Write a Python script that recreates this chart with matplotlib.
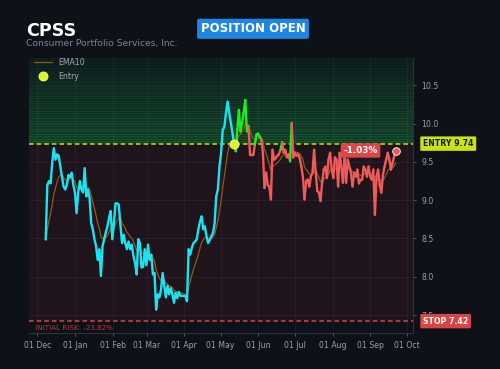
import matplotlib
matplotlib.use("Agg")
import matplotlib.pyplot as plt
import matplotlib.dates as mdates
import matplotlib.transforms as mtransforms
from matplotlib.collections import LineCollection
import numpy as np
import pandas as pd

# ---------------- data ----------------
ticker = "CPSS"
company = "Consumer Portfolio Services, Inc."
status = "POSITION OPEN"
entry_price = 9.74
stop_price = 7.42
pnl_label = "-1.03%"
risk_label = "INITIAL RISK: -23.82%"

pre_start, entry_date, last_date = "2024-12-08", "2025-05-12", "2025-09-22"

pre_close = [8.49, 9.20, 9.25, 9.22, 9.49, 9.68, 9.53, 9.60, 9.58, 9.44, 9.31, 9.18, 9.14, 9.20,
             9.33, 9.30, 9.36, 9.20, 9.10, 8.83, 9.10, 9.25, 9.14, 9.10, 9.42, 9.05, 9.14, 9.03,
             8.70, 8.62, 8.49, 8.40, 8.22, 8.36, 8.01, 8.40, 8.49,
             8.58, 8.66, 8.77, 8.86, 8.49, 8.70, 8.96, 8.96, 8.94, 8.68, 8.44, 8.55, 8.44, 8.36,
             8.46, 8.36, 8.42, 8.27, 8.18, 8.03, 8.49, 8.44, 8.12, 8.13, 8.36, 8.15, 8.42, 8.22,
             8.29, 8.03, 8.05, 7.57, 7.77, 7.73, 7.83, 8.05, 7.88, 7.73, 7.88, 7.77, 7.85, 7.77,
             7.66, 7.79, 7.72, 7.80, 7.75, 7.75, 7.75, 7.75, 7.68, 8.36, 8.29, 8.38, 8.44, 8.46,
             8.49, 8.62, 8.72, 8.79, 8.62, 8.66, 8.53, 8.44, 8.48, 8.53, 8.57, 8.70, 9.05, 9.14,
             9.44, 9.62, 9.92, 9.96, 10.14, 10.29, 10.14, 10.01, 9.88, 9.74]

post_close = [9.74, 9.64, 9.92, 10.18, 9.90, 10.01, 10.14, 10.31, 9.90, 9.97, 9.59, 9.59, 9.59,
              9.73, 9.86, 9.87, 9.83, 9.79, 9.62, 9.16, 9.36, 9.20, 9.18, 9.01, 9.66, 9.53, 9.55,
              9.58, 9.60, 9.66, 9.76, 9.62, 9.66, 9.56, 9.60, 9.51, 10.01, 9.56, 9.62, 9.58,
              9.60, 9.55, 9.44, 9.31, 9.01, 9.25, 9.27, 9.18, 9.31, 9.36, 9.66, 9.36, 9.12, 9.10,
              8.99, 9.23, 9.40, 9.44, 9.29, 9.53, 9.62, 9.40, 9.29, 9.56, 9.53, 9.18, 9.62, 9.44,
              9.23, 9.56, 9.23, 9.53, 9.44, 9.36, 9.18, 9.36, 9.31, 9.40, 9.22, 9.27, 9.27, 9.44,
              9.40, 9.31, 9.44, 9.31, 9.27, 9.40, 8.81, 9.31, 9.40, 9.20, 9.10, 9.33, 9.44, 9.53,
              9.62, 9.53, 9.40, 9.49, 9.57, 9.65]

y_ticks = [7.5, 8.0, 8.5, 9.0, 9.5, 10.0, 10.5]
x_ticks = ["2024-12-01", "2025-01-01", "2025-02-01", "2025-03-01", "2025-04-01", "2025-05-01",
           "2025-06-01", "2025-07-01", "2025-08-01", "2025-09-01", "2025-10-01"]

# ---------------- styling ----------------
BG = "#0e1118"
CYAN = "#18e4f4"
GREEN = "#1cf01c"
RED = "#f05a5a"
EMA_C = "#8c5a18"
ENTRY_C = "#c9e40f"
STOP_C = "#d94545"
TXT = "#9aa0a8"

pre_dates = pd.date_range(pre_start, entry_date, periods=len(pre_close))
post_dates = pd.date_range(entry_date, last_date, periods=len(post_close))
all_dates = pre_dates.append(post_dates[1:])
all_close = pd.Series(pre_close + post_close[1:], index=all_dates)
ema10 = all_close.ewm(span=10, adjust=False).mean()

fig = plt.figure(figsize=(5.0, 3.69), dpi=100, facecolor=BG)
ax = fig.add_axes([0.058, 0.0976, 0.768, 0.7454], facecolor=BG)

ymin, ymax = 7.265, 10.86
ax.set_ylim(ymin, ymax)
ax.set_xlim(mdates.date2num(pd.Timestamp("2024-11-24 06:00")),
            mdates.date2num(pd.Timestamp("2025-10-06 05:00")))

# zones
ax.axhspan(stop_price, entry_price, color="#ef4444", alpha=0.08, lw=0, zorder=0)
n_bands = 34
edges = np.linspace(entry_price, ymax, n_bands + 1)
for i in range(n_bands):
    a = 0.05 + 0.20 * (1 - i / n_bands)
    ax.axhspan(edges[i], edges[i + 1], color="#22c55e", alpha=a, lw=0, zorder=0)
    ax.axhline(edges[i + 1], color="#22c55e", alpha=a * 0.8, lw=0.5, zorder=0)

# grid
ax.grid(True, color="white", alpha=0.05, lw=0.6)
ax.set_axisbelow(True)

# reference lines
ax.axhline(entry_price, color=ENTRY_C, ls=(0, (3, 2)), lw=1.1, zorder=3)
ax.axhline(stop_price, color=STOP_C, ls=(0, (3, 2)), lw=1.1, zorder=3)

# EMA
ax.plot(ema10.index, ema10.values, color=EMA_C, lw=0.9, zorder=4, label="EMA10")

# price: pre-entry cyan
ax.plot(pre_dates, pre_close, color=CYAN, lw=1.7, zorder=5, solid_joinstyle="round")
# post-entry colored segments
xp = mdates.date2num(post_dates)
pts = np.column_stack([xp, post_close])
segs = np.stack([pts[:-1], pts[1:]], axis=1)
cols = [GREEN if v >= entry_price else RED for v in post_close[1:]]
lc = LineCollection(segs, colors=cols, linewidths=1.7, zorder=5, capstyle="round", joinstyle="round")
ax.add_collection(lc)

# markers
ax.plot([post_dates[0]], [entry_price], "o", ms=6.5, mfc="#dcf51c", mec="#f0ffb0", mew=0.6,
        zorder=7, label="Entry", ls="none")
ax.plot([post_dates[-1]], [post_close[-1]], "o", ms=5.5, mfc=RED, mec="white", mew=0.6, zorder=7)

# ticks
ax.yaxis.tick_right()
ax.set_yticks(y_ticks)
ax.yaxis.set_major_formatter(matplotlib.ticker.FormatStrFormatter("%.1f"))
ax.set_xticks([mdates.date2num(pd.Timestamp(d)) for d in x_ticks])
ax.xaxis.set_major_formatter(mdates.DateFormatter("%d %b"))
ax.tick_params(axis="both", colors="#5a606a", labelcolor=TXT, labelsize=5.6, length=2.5, width=0.6)
for s in ["top", "left"]:
    ax.spines[s].set_visible(False)
for s in ["right", "bottom"]:
    ax.spines[s].set_color("#2c313a")
    ax.spines[s].set_linewidth(0.8)

# legend
leg = ax.legend(loc="upper left", bbox_to_anchor=(0.0, 1.02), frameon=False, fontsize=5.6,
                labelcolor="#a8acb2", handlelength=2.2, borderaxespad=0.3, labelspacing=0.6)

# labels on the right
trans = mtransforms.blended_transform_factory(ax.transAxes, ax.transData)
ax.text(1.026, entry_price, f"ENTRY {entry_price:.2f}", transform=trans, ha="left", va="center",
        fontsize=5.6, fontweight="bold", color="#151a10", clip_on=False, zorder=10,
        bbox=dict(boxstyle="round,pad=0.35,rounding_size=0.15", fc=ENTRY_C, ec="none"))
ax.text(1.026, stop_price, f"STOP {stop_price:.2f}", transform=trans, ha="left", va="center",
        fontsize=5.6, fontweight="bold", color="white", clip_on=False, zorder=10,
        bbox=dict(boxstyle="round,pad=0.35,rounding_size=0.15", fc=STOP_C, ec="none"))
ax.annotate(pnl_label, xy=(post_dates[-1], post_close[-1]), xytext=(-13, 0),
            textcoords="offset points", ha="right", va="center", fontsize=6.4,
            fontweight="bold", color="white", zorder=10,
            bbox=dict(boxstyle="round,pad=0.3,rounding_size=0.15", fc="#dc4646", ec="none"))
ax.text(0.016, stop_price - 0.09, risk_label, transform=trans, ha="left", va="center",
        fontsize=5.1, color="#b23a3a", zorder=10)

# header
fig.text(0.052, 0.902, ticker, fontsize=12.6, fontweight="bold", color="white", ha="left", va="baseline")
fig.text(0.052, 0.874, company, fontsize=6.6, color="#80858d", ha="left", va="baseline")
fig.text(0.506, 0.922, status, fontsize=8.5, fontweight="bold", color="white", ha="center",
         va="center", bbox=dict(boxstyle="round,pad=0.3,rounding_size=0.15", fc="#1e86e0", ec="none"))

fig.savefig("out.png", dpi=100, facecolor=BG)
